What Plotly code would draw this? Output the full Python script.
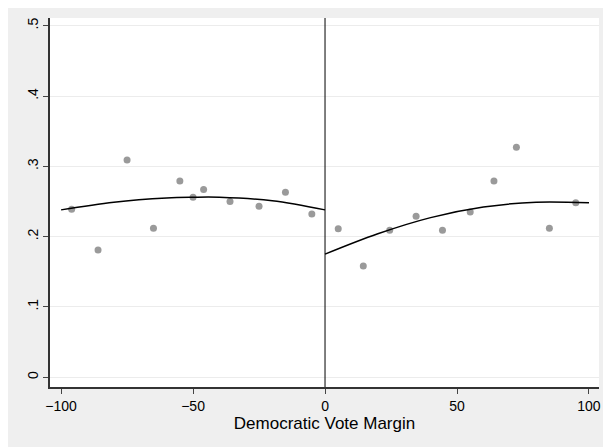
import plotly.graph_objects as go

left_x = [-96, -86, -75, -65, -55, -50, -46, -36, -25, -15, -5]
left_y = [0.239, 0.181, 0.309, 0.212, 0.279, 0.256, 0.267, 0.250, 0.243, 0.263, 0.232]
right_x = [5, 14.5, 24.5, 34.5, 44.5, 55, 64, 72.5, 85, 95]
right_y = [0.211, 0.158, 0.209, 0.229, 0.209, 0.235, 0.279, 0.327, 0.212, 0.248]

fitL_x = [-100, -80, -60, -50, -40, -20, 0]
fitL_y = [0.238, 0.249, 0.255, 0.256, 0.256, 0.251, 0.238]
fitR_x = [0, 20, 40, 60, 80, 100]
fitR_y = [0.175, 0.204, 0.227, 0.242, 0.249, 0.248]

yticks = [0, 0.1, 0.2, 0.3, 0.4, 0.5]
ylabels = ["0", ".1", ".2", ".3", ".4", ".5"]
xticks = [-100, -50, 0, 50, 100]

fig = go.Figure()
for xs, ys in [(left_x, left_y), (right_x, right_y)]:
    fig.add_trace(go.Scatter(x=xs, y=ys, mode="markers",
                             marker=dict(color="#9a9a9a", size=7), showlegend=False))
for xs, ys in [(fitL_x, fitL_y), (fitR_x, fitR_y)]:
    fig.add_trace(go.Scatter(x=xs, y=ys, mode="lines", line=dict(color="black", width=1.5, shape="spline"),
                             showlegend=False))
fig.add_shape(type="line", x0=0, x1=0, y0=0, y1=1, yref="paper", line=dict(color="black", width=1))

fig.update_layout(
    width=611, height=447, paper_bgcolor="#efefef", plot_bgcolor="white",
    margin=dict(l=42, r=20, t=10, b=68),
    font=dict(family="Liberation Sans, Arial", size=14, color="black"),
    xaxis=dict(range=[-104.2, 103.8], tickvals=xticks, ticks="outside", ticklen=5, showgrid=False,
               zeroline=False, showline=True, linecolor="#333", linewidth=1.5, automargin=False,
               title=dict(text="Democratic Vote Margin", standoff=2)),
    yaxis=dict(range=[-0.014, 0.511], tickvals=yticks, ticktext=ylabels, tickangle=-90,
               ticks="outside", ticklen=5, showgrid=True, gridcolor="#ececec", zeroline=False,
               showline=True, linecolor="#333", linewidth=1.5, automargin=False),
)
fig.write_html("out.html")
